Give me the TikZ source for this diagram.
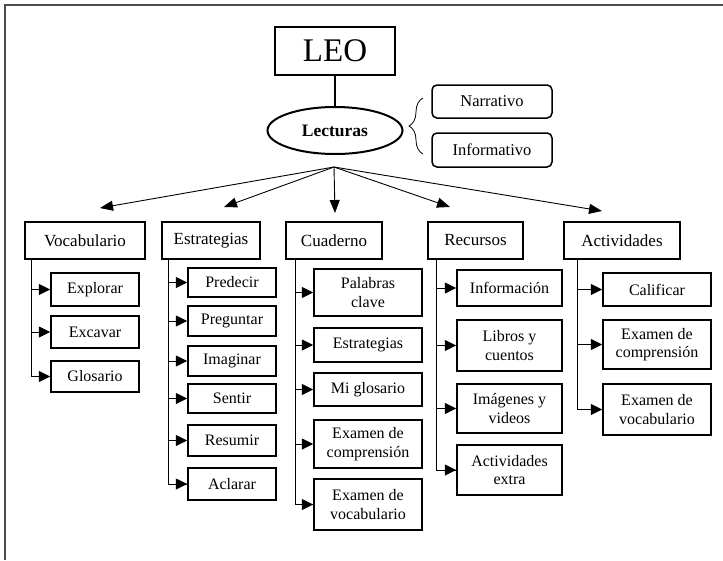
\documentclass[tikz,border=0pt]{standalone}
\usepackage{fontspec}
\setmainfont{Liberation Serif}
\usetikzlibrary{shapes.geometric,arrows.meta,decorations.pathreplacing}

\begin{document}
\begin{tikzpicture}[x=1pt,y=-1pt,>={Triangle[length=11.5pt,width=11pt]}]
    \tikzstyle{box}=[draw,line width=1.5pt,inner sep=1pt,align=center,font=\fontsize{16}{18.5}\selectfont]
    \tikzstyle{top box}=[box,line width=2pt,minimum width=120pt,minimum height=48pt,font=\fontsize{33}{36}\selectfont]
    \tikzstyle{theme}=[draw,ellipse,line width=2pt,minimum width=135pt,minimum height=47pt,inner sep=0pt,font=\bfseries\fontsize{17.5}{20}\selectfont]
    \tikzstyle{kind}=[box,rounded corners=5pt,minimum width=120pt,minimum height=33pt,font=\fontsize{16.5}{19}\selectfont]
    \tikzstyle{section}=[box,line width=1.7pt,minimum height=37pt,font=\fontsize{17}{20}\selectfont]
    \tikzstyle{fan}=[->,line width=0.9pt,>={Triangle[length=13pt,width=10pt]}]
    \tikzstyle{branch}=[->,line width=0.9pt]
    \tikzstyle{trunk}=[line width=0.9pt]

    \useasboundingbox (0,0) rectangle (723,560);
    % Frame (only top and left edges show)
    \draw[black!70,line width=1.6pt] (5,560) -- (5,5) -- (723,5);

    % Title and readings
    \node[top box] (LEO) at (335,51) {LEO};
    \node[theme] (Lect) at (335,130.5) {Lecturas};
    \draw[line width=2pt] (LEO) -- (Lect);
    \node[kind] (Narr) at (492,101.5) {Narrativo};
    \node[kind,minimum height=34pt] (Info) at (492,150) {Informativo};
    \coordinate (br-b) at (423,154);
    \coordinate (br-t) at (423,98);
    \draw[line width=0.8pt,decorate,decoration={brace,amplitude=14pt}] (br-b) -- (br-t);

    % Draw the sections
    \foreach \name/\x/\w/\txt in {Voc/85/120/Vocabulario, Estr/211/98/Estrategias, Cuad/334/96/Cuaderno, Rec/475.5/95/Recursos, Act/622/116/Actividades}
        \node[section,minimum width=\w pt] (\name) at (\x,240.5) {\txt};

    % Fan of arrows from the readings to the sections
    \coordinate (fan) at (334,167);
    \foreach \name/\x/\y in {Voc/100/208, Estr/224/207, Cuad/335/213, Rec/450/207, Act/602/211}
    {
        \coordinate (\name-tip) at (\x,\y);
        \draw[fan] (fan) -- (\name-tip);
    }

    % Vocabulario
    \foreach \name/\y/\h/\txt in {Expl/289.5/33/Explorar, Exca/332/32/Excavar, Glos/376.5/31/Glosario}
        \node[box,minimum width=88pt,minimum height=\h pt] (\name) at (95,\y) {\txt};
    \coordinate (Voc-t) at (31,259);
    \draw[trunk] (Voc-t) |- (Glos.west);
    \foreach \name in {Expl,Exca,Glos}
        \draw[branch] (Voc-t |- \name.west) -- (\name.west);

    % Estrategias
    \foreach \name/\y/\h/\txt in {Pred/282.5/29/Predecir, Preg/321/30/Preguntar, Imag/361/30/Imaginar, Sent/398.5/29/Sentir, Resu/440.5/31/Resumir, Acla/484/32/Aclarar}
        \node[box,minimum width=88pt,minimum height=\h pt] (\name) at (232,\y) {\txt};
    \coordinate (Estr-t) at (168,259);
    \draw[trunk] (Estr-t) |- (Acla.west);
    \foreach \name in {Pred,Preg,Imag,Sent,Resu,Acla}
        \draw[branch] (Estr-t |- \name.west) -- (\name.west);

    % Cuaderno
    \foreach \name/\y/\h/\txt in {Pala/292.5/47/{Palabras\\clave}, CEst/345/34/Estrategias, MiGl/389.5/33/Mi glosario, CCom/444/48/{Examen de\\comprensi\'on}, CVoc/504.5/51/{Examen de\\vocabulario}}
        \node[box,minimum width=108pt,minimum height=\h pt] (\name) at (368,\y) {\txt};
    \coordinate (Cuad-t) at (295,259);
    \draw[trunk] (Cuad-t) |- (CVoc.west);
    \foreach \name in {Pala,CEst,MiGl,CCom,CVoc}
        \draw[branch] (Cuad-t |- \name.west) -- (\name.west);

    % Recursos
    \foreach \name/\y/\h/\txt in {Info2/288/36/Informaci\'on, Libr/345.5/51/{Libros y\\cuentos}, Imgs/408.5/49/{Im\'agenes y\\videos}, Extr/470/50/{Actividades\\extra}}
        \node[box,minimum width=105pt,minimum height=\h pt] (\name) at (509.5,\y) {\txt};
    \coordinate (Rec-t) at (436,259);
    \draw[trunk] (Rec-t) |- (Extr.west);
    \foreach \name in {Info2,Libr,Imgs,Extr}
        \draw[branch] (Rec-t |- \name.west) -- (\name.west);

    % Actividades
    \foreach \name/\y/\h/\txt in {Cali/289.5/33/Calificar, ACom/344.5/49/{Examen de\\comprensi\'on}, AVoc/409.5/51/{Examen de\\vocabulario}}
        \node[box,minimum width=108pt,minimum height=\h pt] (\name) at (657,\y) {\txt};
    \coordinate (Act-t) at (577,259);
    \draw[trunk] (Act-t) |- (AVoc.west);
    \foreach \name in {Cali,ACom,AVoc}
        \draw[branch] (Act-t |- \name.west) -- (\name.west);
\end{tikzpicture}
\end{document}
